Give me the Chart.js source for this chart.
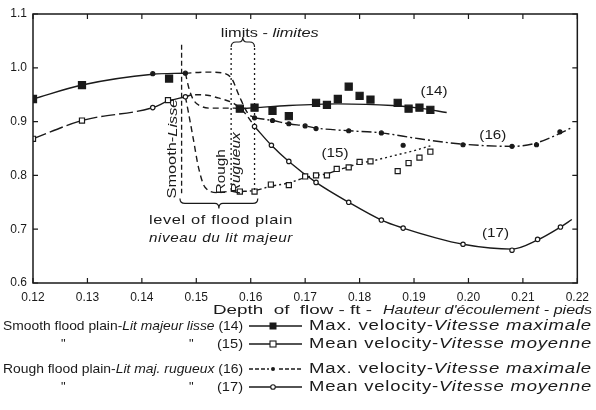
<!DOCTYPE html>
<html>
<head>
<meta charset="utf-8">
<script src="https://cdn.jsdelivr.net/npm/chart.js@4.4.0/dist/chart.umd.min.js"></script>
<style>
  html, body { margin: 0; padding: 0; background: #fff; }
  canvas { display: block; }
</style>
</head>
<body>
<canvas id="chart" width="596" height="410"></canvas>
<script>
// axis ticks
const xTicks = [0.12, 0.13, 0.14, 0.15, 0.16, 0.17, 0.18, 0.19, 0.20, 0.21, 0.22];
const yTicks = [0.6, 0.7, 0.8, 0.9, 1.0, 1.1];

// measured points (depth of flow ft, velocity)
const depth14 = [0.12, 0.129, 0.145, 0.158, 0.1607, 0.164, 0.167, 0.172, 0.174, 0.176, 0.178, 0.180, 0.182, 0.187, 0.189, 0.191, 0.193];
const vel14   = [0.942, 0.968, 0.980, 0.924, 0.926, 0.920, 0.910, 0.935, 0.931, 0.942, 0.965, 0.948, 0.941, 0.935, 0.924, 0.926, 0.922];
const depth15 = [0.12, 0.129, 0.1448, 0.158, 0.1607, 0.1637, 0.167, 0.170, 0.172, 0.174, 0.1758, 0.178, 0.180, 0.182, 0.187, 0.189, 0.191, 0.193];
const vel15   = [0.868, 0.902, 0.940, 0.770, 0.770, 0.783, 0.782, 0.798, 0.800, 0.800, 0.812, 0.815, 0.825, 0.826, 0.808, 0.823, 0.833, 0.844];
const depth16 = [0.142, 0.148, 0.1607, 0.164, 0.167, 0.170, 0.172, 0.178, 0.184, 0.188, 0.199, 0.208, 0.2125, 0.2168];
const vel16   = [0.989, 0.990, 0.907, 0.902, 0.896, 0.892, 0.887, 0.883, 0.879, 0.856, 0.857, 0.854, 0.857, 0.881];
const depth17 = [0.142, 0.148, 0.1607, 0.1638, 0.167, 0.172, 0.178, 0.184, 0.188, 0.199, 0.208, 0.2127, 0.2169];
const vel17   = [0.926, 0.946, 0.891, 0.856, 0.826, 0.787, 0.750, 0.717, 0.702, 0.672, 0.661, 0.681, 0.704];

// fitted curves
const upperX = [0.12, 0.129, 0.142, 0.148];
const upperY = [0.942, 0.968, 0.988, 0.990];
const lowerX = [0.12, 0.129, 0.142, 0.1448, 0.148];
const lowerY = [0.868, 0.902, 0.926, 0.938, 0.946];
const trans14X = [0.148, 0.1487, 0.1495, 0.151, 0.153, 0.157, 0.158];
const trans14Y = [0.990, 0.960, 0.940, 0.928, 0.925, 0.925, 0.924];
const trans16X = [0.148, 0.152, 0.155, 0.1565, 0.158, 0.1595, 0.1607];
const trans16Y = [0.990, 0.992, 0.990, 0.980, 0.945, 0.915, 0.907];
const trans15X = [0.148, 0.1485, 0.1495, 0.1504, 0.1516, 0.154, 0.1573, 0.158];
const trans15Y = [0.946, 0.920, 0.865, 0.815, 0.778, 0.768, 0.772, 0.770];
const trans17X = [0.148, 0.1495, 0.152, 0.154, 0.157, 0.159, 0.1607];
const trans17Y = [0.946, 0.950, 0.949, 0.944, 0.933, 0.915, 0.891];
const curve14X = [0.158, 0.161, 0.167, 0.176, 0.186, 0.191, 0.196];
const curve14Y = [0.924, 0.926, 0.930, 0.933, 0.930, 0.925, 0.917];
const curve15X = [0.158, 0.1607, 0.1638, 0.167, 0.170, 0.172, 0.174, 0.176, 0.178, 0.180, 0.182];
const curve15Y = [0.770, 0.772, 0.780, 0.786, 0.796, 0.800, 0.803, 0.810, 0.816, 0.823, 0.826];
const dotted15X = [0.182, 0.186, 0.190, 0.193];
const dotted15Y = [0.826, 0.836, 0.846, 0.855];
const curve16X = [0.1607, 0.164, 0.167, 0.170, 0.172, 0.178, 0.184, 0.191, 0.199, 0.208, 0.212, 0.2168, 0.219];
const curve16Y = [0.907, 0.902, 0.896, 0.892, 0.888, 0.883, 0.879, 0.868, 0.858, 0.854, 0.859, 0.878, 0.889];
const curve17X = [0.1607, 0.1638, 0.167, 0.172, 0.178, 0.184, 0.188, 0.194, 0.199, 0.204, 0.208, 0.2127, 0.2169, 0.219];
const curve17Y = [0.891, 0.856, 0.826, 0.787, 0.750, 0.717, 0.702, 0.684, 0.672, 0.665, 0.663, 0.680, 0.704, 0.718];

const FONT = '"Liberation Sans", Arial, sans-serif';
const INK = '#1a1a1a';

function pts(xs, ys) {
  return xs.map((x, i) => ({ x: x, y: ys[i] }));
}

function curve(xs, ys, dash) {
  return {
    type: 'line', data: pts(xs, ys), borderColor: INK, borderWidth: 1.4,
    borderDash: dash || [], pointRadius: 0, cubicInterpolationMode: 'monotone', fill: false
  };
}

function marks(xs, ys, style, radius, filled) {
  return {
    type: 'scatter', data: pts(xs, ys), showLine: false, pointStyle: style,
    pointRadius: radius, pointBackgroundColor: filled ? INK : '#fff',
    pointBorderColor: INK, pointBorderWidth: 1.2
  };
}

// draw a row of text pieces (some italic), optionally squeezed to a width
function segText(ctx, segs, x, y, width, size, rot, spacing) {
  ctx.save();
  ctx.letterSpacing = (spacing || 0) + 'px';
  let total = 0;
  segs.forEach(s => {
    ctx.font = (s[1] ? 'italic ' : '') + size + 'px ' + FONT;
    total += ctx.measureText(s[0]).width;
  });
  const k = width ? width / total : 1;
  ctx.translate(x, y);
  if (rot) ctx.rotate(rot);
  ctx.scale(k, 1);
  ctx.fillStyle = INK;
  ctx.textBaseline = 'middle';
  ctx.textAlign = 'left';
  let cx = 0;
  segs.forEach(s => {
    ctx.font = (s[1] ? 'italic ' : '') + size + 'px ' + FONT;
    ctx.fillText(s[0], cx, 0);
    cx += ctx.measureText(s[0]).width;
  });
  ctx.restore();
}

function brace(ctx, x1, x2, y, dir) {
  // dir -1 = tip up, 1 = tip down
  const mid = (x1 + x2) / 2, h = 5 * dir;
  ctx.beginPath();
  ctx.moveTo(x1, y - h);
  ctx.quadraticCurveTo(x1, y, x1 + 5, y);
  ctx.lineTo(mid - 4, y);
  ctx.quadraticCurveTo(mid, y, mid, y + h);
  ctx.quadraticCurveTo(mid, y, mid + 4, y);
  ctx.lineTo(x2 - 5, y);
  ctx.quadraticCurveTo(x2, y, x2, y - h);
  ctx.stroke();
}

const framePlugin = {
  id: 'frame',
  afterDatasetsDraw(chart) {
    const ctx = chart.ctx, a = chart.chartArea;
    const xs = chart.scales.x, ys = chart.scales.y;
    ctx.save();
    ctx.strokeStyle = INK;
    ctx.lineWidth = 1.5;
    ctx.strokeRect(a.left, a.top, a.right - a.left, a.bottom - a.top);
    ctx.lineWidth = 1.2;
    ctx.beginPath();
    xTicks.forEach(v => {
      const px = xs.getPixelForValue(v);
      ctx.moveTo(px, a.bottom); ctx.lineTo(px, a.bottom - 5);
      ctx.moveTo(px, a.top); ctx.lineTo(px, a.top + 5);
    });
    yTicks.forEach(v => {
      const py = ys.getPixelForValue(v);
      ctx.moveTo(a.left, py); ctx.lineTo(a.left + 5, py);
      ctx.moveTo(a.right, py); ctx.lineTo(a.right - 5, py);
    });
    ctx.stroke();

    // flood plain level and limits
    const X = v => xs.getPixelForValue(v), Y = v => ys.getPixelForValue(v);
    ctx.lineWidth = 1.3;
    ctx.setLineDash([5, 3]);
    ctx.beginPath();
    ctx.moveTo(X(0.1473), Y(1.043)); ctx.lineTo(X(0.1473), Y(0.767));
    ctx.stroke();
    ctx.setLineDash([2, 3]);
    ctx.beginPath();
    ctx.moveTo(X(0.1564), Y(1.037)); ctx.lineTo(X(0.1564), Y(0.772));
    ctx.moveTo(X(0.1607), Y(1.037)); ctx.lineTo(X(0.1607), Y(0.772));
    ctx.stroke();
    ctx.setLineDash([]);
    ctx.lineWidth = 1.2;
    brace(ctx, X(0.1564), X(0.1607), Y(1.048), -1);
    brace(ctx, X(0.1470), X(0.1613), Y(0.748), 1);

    segText(ctx, [['limits - ', false], ['limites', true]], X(0.1545), Y(1.064), 98, 13);
    segText(ctx, [['level of flood plain', false]], X(0.1413), Y(0.716), 144, 13, 0, 0.5);
    segText(ctx, [['niveau du lit majeur', true]], X(0.1413), Y(0.683), 144, 13, 0, 0.5);
    segText(ctx, [['Smooth-', false], ['Lisse', true]], X(0.1457), Y(0.757), 100, 13, -Math.PI / 2);
    segText(ctx, [['Rough', false]], X(0.1547), Y(0.765), 45, 13, -Math.PI / 2);
    segText(ctx, [['Rugueux', true]], X(0.1574), Y(0.765), 62, 13, -Math.PI / 2);

    segText(ctx, [['(14)', false]], X(0.1912), Y(0.957), 27, 13);
    segText(ctx, [['(15)', false]], X(0.1730), Y(0.841), 27, 13);
    segText(ctx, [['(16)', false]], X(0.2020), Y(0.874), 27, 13);
    segText(ctx, [['(17)', false]], X(0.2025), Y(0.693), 27, 13);
    ctx.restore();
  },
  afterDraw(chart) {
    const ctx = chart.ctx;
    ctx.save();
    segText(ctx, [['Depth  of  flow - ft -', false]], 213, 310, 159, 13);
    segText(ctx, [["Hauteur d'écoulement - pieds", true]], 383, 310, 209, 13);

    const rows = [
      { y: 326, left: [['Smooth flood plain-', false], ['Lit majeur lisse', true], [' (14)', false]], right: [['Max. velocity-', false], ['Vitesse maximale', true]], kind: 0 },
      { y: 344, left: null, num: '(15)', right: [['Mean velocity-', false], ['Vitesse moyenne', true]], kind: 1 },
      { y: 369, left: [['Rough flood plain-', false], ['Lit maj. rugueux', true], [' (16)', false]], right: [['Max. velocity-', false], ['Vitesse maximale', true]], kind: 2 },
      { y: 387, left: null, num: '(17)', right: [['Mean velocity-', false], ['Vitesse moyenne', true]], kind: 3 }
    ];
    rows.forEach(r => {
      if (r.left) {
        segText(ctx, r.left, 3, r.y, 240, 13);
      } else {
        segText(ctx, [['"', false]], 61, r.y, 0, 13);
        segText(ctx, [['"', false]], 189, r.y, 0, 13);
        segText(ctx, [[r.num, false]], 217, r.y, 26, 13);
      }
      segText(ctx, r.right, 309, r.y, 283, 14, 0, 0.6);
      // line sample
      ctx.strokeStyle = INK;
      ctx.lineWidth = 1.3;
      ctx.setLineDash(r.kind === 2 ? [4, 2] : []);
      ctx.beginPath();
      ctx.moveTo(249, r.y); ctx.lineTo(302, r.y);
      ctx.stroke();
      ctx.setLineDash([]);
      const mx = 273;
      if (r.kind === 0) {
        ctx.fillStyle = INK; ctx.fillRect(mx - 3.5, r.y - 3.5, 7, 7);
      } else if (r.kind === 1) {
        ctx.fillStyle = '#fff'; ctx.fillRect(mx - 3, r.y - 3, 6, 6);
        ctx.lineWidth = 1.1; ctx.strokeRect(mx - 3, r.y - 3, 6, 6);
      } else if (r.kind === 2) {
        ctx.fillStyle = '#fff'; ctx.fillRect(mx - 4, r.y - 2, 8, 4);
        ctx.fillStyle = INK; ctx.beginPath(); ctx.arc(mx, r.y, 2, 0, Math.PI * 2); ctx.fill();
      } else {
        ctx.fillStyle = '#fff'; ctx.beginPath(); ctx.arc(mx, r.y, 2.3, 0, Math.PI * 2); ctx.fill();
        ctx.lineWidth = 1.1; ctx.stroke();
      }
    });
    ctx.restore();
  }
};

new Chart(document.getElementById('chart'), {
  type: 'scatter',
  data: {
    datasets: [
      marks(depth14, vel14, 'rect', 5, true),
      marks(depth15, vel15, 'rect', 3.6, false),
      marks(depth16, vel16, 'circle', 2, true),
      marks(depth17, vel17, 'circle', 2.2, false),
      curve(upperX, upperY),
      curve(lowerX, lowerY, [14, 4]),
      curve(trans14X, trans14Y, [6, 4]),
      curve(trans16X, trans16Y, [6, 4]),
      curve(trans15X, trans15Y, [6, 4]),
      curve(trans17X, trans17Y, [6, 4]),
      curve(curve14X, curve14Y),
      curve(curve15X, curve15Y, [7, 3, 2, 3]),
      curve(dotted15X, dotted15Y, [2, 3]),
      curve(curve16X, curve16Y, [10, 3, 2, 3]),
      curve(curve17X, curve17Y)
    ]
  },
  options: {
    responsive: false,
    animation: false,
    devicePixelRatio: 1,
    layout: { padding: { top: 14, right: 13, left: 0, bottom: 0 } },
    plugins: { legend: { display: false }, tooltip: { enabled: false } },
    scales: {
      x: {
        type: 'linear', min: 0.12, max: 0.22,
        afterBuildTicks: axis => { axis.ticks = xTicks.map(v => ({ value: v })); },
        afterFit: axis => { axis.height = 127; },
        grid: { display: false, drawTicks: false },
        border: { display: false },
        ticks: { padding: 7, color: INK, font: { family: FONT, size: 12 }, maxRotation: 0, callback: v => v.toFixed(2) }
      },
      y: {
        type: 'linear', min: 0.6, max: 1.1,
        afterBuildTicks: axis => { axis.ticks = yTicks.map(v => ({ value: v })); },
        afterFit: axis => { axis.width = 33; },
        grid: { display: false, drawTicks: false },
        border: { display: false },
        ticks: { padding: 6, color: INK, font: { family: FONT, size: 12 }, callback: v => v.toFixed(1) }
      }
    }
  },
  plugins: [framePlugin]
});
</script>
</body>
</html>
